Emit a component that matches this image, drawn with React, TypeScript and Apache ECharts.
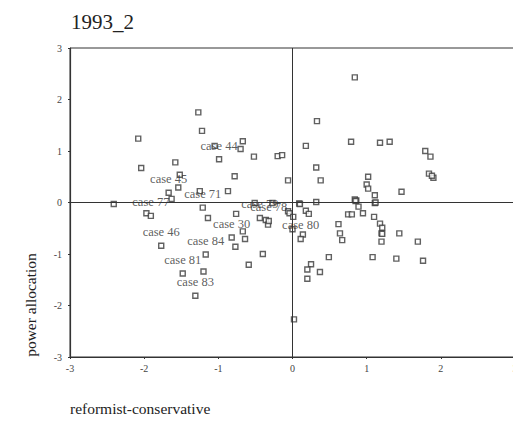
import React, { useEffect, useRef } from "react";
import * as echarts from "echarts";

const titleText = "1993_2";
const xAxisName = "reformist-conservative";
const yAxisName = "power allocation";
const axisTicks = [-3, -2, -1, 0, 1, 2, 3];

// unlabelled cases
const pointX = [
  -1.27, -1.22, -2.08, -0.67, -0.7, -1.05, -0.52, -0.2, -0.14, -2.04, -1.58, -0.78, -1.52, -1.54, -1.63, -1.25, -0.87, -0.06,
  0.84, 0.33, 0.18, 0.79, 1.18, 1.31, 1.79, 1.86, 0.32, 0.38, 1.02, 1.0, 1.02, 1.11, 1.47, 1.84, 1.9, 1.88,
  0.09, 0.1, 0.32, 0.84, 0.86, 0.85, 1.11, 1.12, -2.41, -0.51, -0.27,
  -1.97, -1.14, -0.76, -0.77, -0.67, -0.64, -0.59, -0.4, -1.2, -0.36, -0.33, -0.06, -0.04,
  0.01, 0.0, 0.18, 0.22, 0.75, 0.8, 0.89, 0.95, 1.1, 1.18, 1.21, 1.2, 1.21, 1.2, 1.44, 1.69, 0.62, 0.64, 0.67, 0.14,
  0.49, 1.08, 1.4, 1.76, 0.25, 0.2, 0.37, 0.2, 0.02,
];
const pointY = [
  1.75, 1.39, 1.24, 1.19, 1.04, 1.1, 0.89, 0.9, 0.92, 0.67, 0.78, 0.51, 0.54, 0.29, 0.07, 0.22, 0.22, 0.43,
  2.43, 1.58, 1.1, 1.18, 1.16, 1.18, 1.0, 0.89, 0.68, 0.43, 0.5, 0.35, 0.27, 0.14, 0.21, 0.56, 0.48, 0.52,
  -0.02, -0.03, 0.01, 0.06, 0.04, 0.03, -0.01, 0.0, -0.03, -0.01, -0.01,
  -0.21, -0.3, -0.22, -0.86, -0.56, -0.71, -1.21, -1.0, -1.34, -0.34, -0.43, -0.17, -0.21,
  -0.28, -0.52, -0.16, -0.22, -0.23, -0.23, -0.08, -0.21, -0.28, -0.41, -0.49, -0.6, -0.61, -0.76, -0.6, -0.76, -0.42, -0.6, -0.73, -0.62,
  -1.06, -1.06, -1.09, -1.13, -1.2, -1.3, -1.35, -1.48, -2.27,
];

// labelled cases
const caseNames = ["case 44", "case 45", "case 77", "case 71", "case 46", "case 84", "case 81", "case 83", "case 30", "case 79", "case 78", "case 80"];
const caseX = [-0.99, -1.67, -1.91, -1.21, -1.77, -1.17, -1.48, -1.31, -0.82, -0.44, -0.32, 0.11];
const caseY = [0.84, 0.19, -0.26, -0.1, -0.84, -1.01, -1.38, -1.81, -0.68, -0.3, -0.36, -0.71];

const SERIF = "'Liberation Serif', 'DejaVu Serif', serif";
const INK = "#333";

export default function App() {
  const ref = useRef<HTMLDivElement>(null);
  useEffect(() => {
    if (!ref.current) return;
    const chart = echarts.init(ref.current, undefined, { renderer: "svg" });
    const markerStyle = { color: "#fff", borderColor: "#3a3a3a", borderWidth: 1.4 };
    chart.setOption({
      animation: false,
      backgroundColor: "#fff",
      title: {
        text: titleText,
        left: 71,
        top: 11,
        padding: 0,
        textStyle: { fontFamily: SERIF, fontSize: 21, fontWeight: "normal", color: "#222" },
      },
      grid: {
        left: 70,
        top: 48,
        width: 445,
        height: 309,
        show: true,
        borderColor: INK,
        borderWidth: 1,
        backgroundColor: "transparent",
        outerBoundsMode: "none",
        containLabel: false,
      },
      xAxis: {
        type: "value",
        min: axisTicks[0],
        max: axisTicks[axisTicks.length - 1],
        interval: 1,
        splitLine: { show: false },
        axisLine: { onZero: false, lineStyle: { color: INK, width: 1.2 } },
        axisTick: { show: true, length: 2, lineStyle: { color: INK } },
        axisLabel: { fontFamily: SERIF, fontSize: 10, color: "#444", margin: 6 },
      },
      yAxis: {
        type: "value",
        min: axisTicks[0],
        max: axisTicks[axisTicks.length - 1],
        interval: 1,
        splitLine: { show: false },
        axisLine: { onZero: false, lineStyle: { color: INK, width: 1.2 } },
        axisTick: { show: true, length: 2, lineStyle: { color: INK } },
        axisLabel: { fontFamily: SERIF, fontSize: 10, color: "#444", margin: 8 },
      },
      graphic: [
        {
          type: "text",
          left: 70,
          top: 400,
          style: { text: xAxisName, font: `15.5px ${SERIF}`, fill: "#222" },
        },
        {
          type: "text",
          x: 30,
          y: 305,
          rotation: Math.PI / 2,
          style: { text: yAxisName, font: `15.5px ${SERIF}`, fill: "#222", align: "center", verticalAlign: "middle" },
        },
      ],
      series: [
        {
          type: "scatter",
          symbol: "rect",
          symbolSize: 5,
          itemStyle: markerStyle,
          data: pointX.map((x, i) => [x, pointY[i]]),
          markLine: {
            silent: true,
            symbol: "none",
            label: { show: false },
            lineStyle: { color: INK, width: 1, type: "solid" },
            data: [{ xAxis: 0 }, { yAxis: 0 }],
          },
          z: 3,
        },
        {
          type: "scatter",
          symbol: "rect",
          symbolSize: 5,
          itemStyle: markerStyle,
          data: caseX.map((x, i) => ({ value: [x, caseY[i]], name: caseNames[i] })),
          label: {
            show: true,
            position: "top",
            distance: 4,
            formatter: (p: any) => p.name,
            fontFamily: SERIF,
            fontSize: 12.5,
            color: "#333",
            textBorderWidth: 0,
          },
          labelLayout: { hideOverlap: false },
          z: 4,
        },
      ],
    });
    return () => chart.dispose();
  }, []);
  return <div ref={ref} style={{ position: "fixed", left: 0, top: 0, width: 513, height: 421 }} />;
}
